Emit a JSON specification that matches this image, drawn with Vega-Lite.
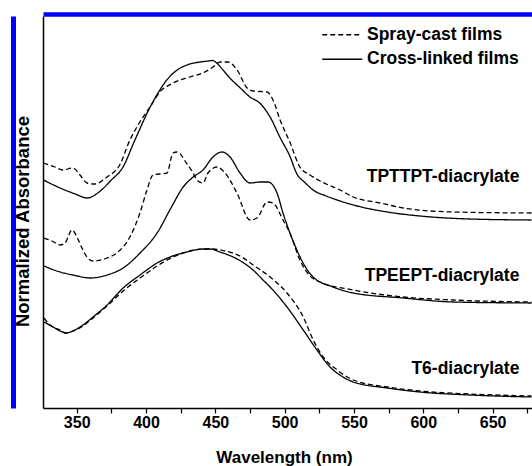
{
  "$schema": "https://vega.github.io/schema/vega-lite/v6.json",
  "width": 489,
  "height": 392,
  "autosize": {"type": "none"},
  "padding": {"left": 43, "top": 16, "right": 0, "bottom": 58},
  "background": "white",
  "config": {"view": {"stroke": null}, "font": "Liberation Sans"},
  "datasets": {
    "spectra": [
      {"s": "TPTTPT-C", "f": "Cross-linked films", "w": 326, "a": 2.28},
      {"s": "TPTTPT-C", "f": "Cross-linked films", "w": 338, "a": 2.20},
      {"s": "TPTTPT-C", "f": "Cross-linked films", "w": 349, "a": 2.14},
      {"s": "TPTTPT-C", "f": "Cross-linked films", "w": 357.5, "a": 2.10},
      {"s": "TPTTPT-C", "f": "Cross-linked films", "w": 367, "a": 2.17},
      {"s": "TPTTPT-C", "f": "Cross-linked films", "w": 375, "a": 2.28},
      {"s": "TPTTPT-C", "f": "Cross-linked films", "w": 383, "a": 2.40},
      {"s": "TPTTPT-C", "f": "Cross-linked films", "w": 392, "a": 2.68},
      {"s": "TPTTPT-C", "f": "Cross-linked films", "w": 403, "a": 3.01},
      {"s": "TPTTPT-C", "f": "Cross-linked films", "w": 410, "a": 3.18},
      {"s": "TPTTPT-C", "f": "Cross-linked films", "w": 415, "a": 3.28},
      {"s": "TPTTPT-C", "f": "Cross-linked films", "w": 422.5, "a": 3.38},
      {"s": "TPTTPT-C", "f": "Cross-linked films", "w": 429.5, "a": 3.43},
      {"s": "TPTTPT-C", "f": "Cross-linked films", "w": 439, "a": 3.46},
      {"s": "TPTTPT-C", "f": "Cross-linked films", "w": 445, "a": 3.47},
      {"s": "TPTTPT-C", "f": "Cross-linked films", "w": 448, "a": 3.475},
      {"s": "TPTTPT-C", "f": "Cross-linked films", "w": 451, "a": 3.45},
      {"s": "TPTTPT-C", "f": "Cross-linked films", "w": 455.5, "a": 3.38},
      {"s": "TPTTPT-C", "f": "Cross-linked films", "w": 460.5, "a": 3.30},
      {"s": "TPTTPT-C", "f": "Cross-linked films", "w": 468, "a": 3.20},
      {"s": "TPTTPT-C", "f": "Cross-linked films", "w": 475, "a": 3.11},
      {"s": "TPTTPT-C", "f": "Cross-linked films", "w": 482, "a": 3.05},
      {"s": "TPTTPT-C", "f": "Cross-linked films", "w": 489.5, "a": 2.91},
      {"s": "TPTTPT-C", "f": "Cross-linked films", "w": 496.5, "a": 2.71},
      {"s": "TPTTPT-C", "f": "Cross-linked films", "w": 504, "a": 2.51},
      {"s": "TPTTPT-C", "f": "Cross-linked films", "w": 508.5, "a": 2.35},
      {"s": "TPTTPT-C", "f": "Cross-linked films", "w": 515, "a": 2.25},
      {"s": "TPTTPT-C", "f": "Cross-linked films", "w": 520.5, "a": 2.18},
      {"s": "TPTTPT-C", "f": "Cross-linked films", "w": 530, "a": 2.12},
      {"s": "TPTTPT-C", "f": "Cross-linked films", "w": 540, "a": 2.07},
      {"s": "TPTTPT-C", "f": "Cross-linked films", "w": 549.5, "a": 2.03},
      {"s": "TPTTPT-C", "f": "Cross-linked films", "w": 574, "a": 1.96},
      {"s": "TPTTPT-C", "f": "Cross-linked films", "w": 597.5, "a": 1.92},
      {"s": "TPTTPT-C", "f": "Cross-linked films", "w": 633.5, "a": 1.89},
      {"s": "TPTTPT-C", "f": "Cross-linked films", "w": 678, "a": 1.88},

      {"s": "TPTTPT-S", "f": "Spray-cast films", "w": 326, "a": 2.45},
      {"s": "TPTTPT-S", "f": "Spray-cast films", "w": 334.4, "a": 2.41},
      {"s": "TPTTPT-S", "f": "Spray-cast films", "w": 340, "a": 2.38},
      {"s": "TPTTPT-S", "f": "Spray-cast films", "w": 347.3, "a": 2.40},
      {"s": "TPTTPT-S", "f": "Spray-cast films", "w": 352.4, "a": 2.33},
      {"s": "TPTTPT-S", "f": "Spray-cast films", "w": 357.5, "a": 2.25},
      {"s": "TPTTPT-S", "f": "Spray-cast films", "w": 363, "a": 2.24},
      {"s": "TPTTPT-S", "f": "Spray-cast films", "w": 371.9, "a": 2.31},
      {"s": "TPTTPT-S", "f": "Spray-cast films", "w": 381, "a": 2.43},
      {"s": "TPTTPT-S", "f": "Spray-cast films", "w": 388.4, "a": 2.68},
      {"s": "TPTTPT-S", "f": "Spray-cast films", "w": 395.6, "a": 2.86},
      {"s": "TPTTPT-S", "f": "Spray-cast films", "w": 402.9, "a": 3.01},
      {"s": "TPTTPT-S", "f": "Spray-cast films", "w": 410, "a": 3.16},
      {"s": "TPTTPT-S", "f": "Spray-cast films", "w": 419.5, "a": 3.25},
      {"s": "TPTTPT-S", "f": "Spray-cast films", "w": 431.7, "a": 3.31},
      {"s": "TPTTPT-S", "f": "Spray-cast films", "w": 441, "a": 3.35},
      {"s": "TPTTPT-S", "f": "Spray-cast films", "w": 448.3, "a": 3.41},
      {"s": "TPTTPT-S", "f": "Spray-cast films", "w": 453.4, "a": 3.46},
      {"s": "TPTTPT-S", "f": "Spray-cast films", "w": 459.1, "a": 3.46},
      {"s": "TPTTPT-S", "f": "Spray-cast films", "w": 465.7, "a": 3.38},
      {"s": "TPTTPT-S", "f": "Spray-cast films", "w": 472.9, "a": 3.20},
      {"s": "TPTTPT-S", "f": "Spray-cast films", "w": 477.2, "a": 3.17},
      {"s": "TPTTPT-S", "f": "Spray-cast films", "w": 487.3, "a": 3.16},
      {"s": "TPTTPT-S", "f": "Spray-cast films", "w": 491.6, "a": 3.08},
      {"s": "TPTTPT-S", "f": "Spray-cast films", "w": 496.7, "a": 2.88},
      {"s": "TPTTPT-S", "f": "Spray-cast films", "w": 504, "a": 2.65},
      {"s": "TPTTPT-S", "f": "Spray-cast films", "w": 511, "a": 2.41},
      {"s": "TPTTPT-S", "f": "Spray-cast films", "w": 518.3, "a": 2.33},
      {"s": "TPTTPT-S", "f": "Spray-cast films", "w": 525.5, "a": 2.27},
      {"s": "TPTTPT-S", "f": "Spray-cast films", "w": 540, "a": 2.18},
      {"s": "TPTTPT-S", "f": "Spray-cast films", "w": 549.5, "a": 2.11},
      {"s": "TPTTPT-S", "f": "Spray-cast films", "w": 569, "a": 2.05},
      {"s": "TPTTPT-S", "f": "Spray-cast films", "w": 585.5, "a": 2.00},
      {"s": "TPTTPT-S", "f": "Spray-cast films", "w": 621.6, "a": 1.96},
      {"s": "TPTTPT-S", "f": "Spray-cast films", "w": 678, "a": 1.95},

      {"s": "TPEEPT-C", "f": "Cross-linked films", "w": 326.4, "a": 1.42},
      {"s": "TPEEPT-C", "f": "Cross-linked films", "w": 338, "a": 1.36},
      {"s": "TPEEPT-C", "f": "Cross-linked films", "w": 347.3, "a": 1.33},
      {"s": "TPEEPT-C", "f": "Cross-linked films", "w": 359.6, "a": 1.30},
      {"s": "TPEEPT-C", "f": "Cross-linked films", "w": 371.9, "a": 1.33},
      {"s": "TPEEPT-C", "f": "Cross-linked films", "w": 383.5, "a": 1.40},
      {"s": "TPEEPT-C", "f": "Cross-linked films", "w": 395.7, "a": 1.55},
      {"s": "TPEEPT-C", "f": "Cross-linked films", "w": 408, "a": 1.75},
      {"s": "TPEEPT-C", "f": "Cross-linked films", "w": 418, "a": 2.00},
      {"s": "TPEEPT-C", "f": "Cross-linked films", "w": 426.8, "a": 2.21},
      {"s": "TPEEPT-C", "f": "Cross-linked films", "w": 434, "a": 2.31},
      {"s": "TPEEPT-C", "f": "Cross-linked films", "w": 441.1, "a": 2.38},
      {"s": "TPEEPT-C", "f": "Cross-linked films", "w": 448.3, "a": 2.51},
      {"s": "TPEEPT-C", "f": "Cross-linked films", "w": 454.8, "a": 2.56},
      {"s": "TPEEPT-C", "f": "Cross-linked films", "w": 460.6, "a": 2.51},
      {"s": "TPEEPT-C", "f": "Cross-linked films", "w": 467.8, "a": 2.35},
      {"s": "TPEEPT-C", "f": "Cross-linked films", "w": 475, "a": 2.25},
      {"s": "TPEEPT-C", "f": "Cross-linked films", "w": 482.2, "a": 2.26},
      {"s": "TPEEPT-C", "f": "Cross-linked films", "w": 488, "a": 2.26},
      {"s": "TPEEPT-C", "f": "Cross-linked films", "w": 494.5, "a": 2.15},
      {"s": "TPEEPT-C", "f": "Cross-linked films", "w": 498.8, "a": 1.95},
      {"s": "TPEEPT-C", "f": "Cross-linked films", "w": 503.8, "a": 1.75},
      {"s": "TPEEPT-C", "f": "Cross-linked films", "w": 508.8, "a": 1.58},
      {"s": "TPEEPT-C", "f": "Cross-linked films", "w": 513.3, "a": 1.45},
      {"s": "TPEEPT-C", "f": "Cross-linked films", "w": 520.5, "a": 1.31},
      {"s": "TPEEPT-C", "f": "Cross-linked films", "w": 534.9, "a": 1.21},
      {"s": "TPEEPT-C", "f": "Cross-linked films", "w": 549.5, "a": 1.15},
      {"s": "TPEEPT-C", "f": "Cross-linked films", "w": 585.5, "a": 1.10},
      {"s": "TPEEPT-C", "f": "Cross-linked films", "w": 621.6, "a": 1.06},
      {"s": "TPEEPT-C", "f": "Cross-linked films", "w": 678, "a": 1.05},

      {"s": "TPEEPT-S", "f": "Spray-cast films", "w": 326.4, "a": 1.70},
      {"s": "TPEEPT-S", "f": "Spray-cast films", "w": 332.2, "a": 1.67},
      {"s": "TPEEPT-S", "f": "Spray-cast films", "w": 338, "a": 1.63},
      {"s": "TPEEPT-S", "f": "Spray-cast films", "w": 341.6, "a": 1.65},
      {"s": "TPEEPT-S", "f": "Spray-cast films", "w": 346.6, "a": 1.78},
      {"s": "TPEEPT-S", "f": "Spray-cast films", "w": 350.2, "a": 1.71},
      {"s": "TPEEPT-S", "f": "Spray-cast films", "w": 353.8, "a": 1.60},
      {"s": "TPEEPT-S", "f": "Spray-cast films", "w": 357.4, "a": 1.51},
      {"s": "TPEEPT-S", "f": "Spray-cast films", "w": 361.8, "a": 1.47},
      {"s": "TPEEPT-S", "f": "Spray-cast films", "w": 371.9, "a": 1.50},
      {"s": "TPEEPT-S", "f": "Spray-cast films", "w": 379.8, "a": 1.56},
      {"s": "TPEEPT-S", "f": "Spray-cast films", "w": 388.4, "a": 1.71},
      {"s": "TPEEPT-S", "f": "Spray-cast films", "w": 395.6, "a": 1.95},
      {"s": "TPEEPT-S", "f": "Spray-cast films", "w": 400.7, "a": 2.18},
      {"s": "TPEEPT-S", "f": "Spray-cast films", "w": 405, "a": 2.33},
      {"s": "TPEEPT-S", "f": "Spray-cast films", "w": 415.1, "a": 2.35},
      {"s": "TPEEPT-S", "f": "Spray-cast films", "w": 419.5, "a": 2.55},
      {"s": "TPEEPT-S", "f": "Spray-cast films", "w": 422.4, "a": 2.56},
      {"s": "TPEEPT-S", "f": "Spray-cast films", "w": 429.6, "a": 2.44},
      {"s": "TPEEPT-S", "f": "Spray-cast films", "w": 434, "a": 2.35},
      {"s": "TPEEPT-S", "f": "Spray-cast films", "w": 436.8, "a": 2.28},
      {"s": "TPEEPT-S", "f": "Spray-cast films", "w": 441.1, "a": 2.25},
      {"s": "TPEEPT-S", "f": "Spray-cast films", "w": 444.7, "a": 2.35},
      {"s": "TPEEPT-S", "f": "Spray-cast films", "w": 451.2, "a": 2.41},
      {"s": "TPEEPT-S", "f": "Spray-cast films", "w": 457, "a": 2.35},
      {"s": "TPEEPT-S", "f": "Spray-cast films", "w": 465.6, "a": 2.15},
      {"s": "TPEEPT-S", "f": "Spray-cast films", "w": 475, "a": 1.88},
      {"s": "TPEEPT-S", "f": "Spray-cast films", "w": 480.1, "a": 1.90},
      {"s": "TPEEPT-S", "f": "Spray-cast films", "w": 487.3, "a": 2.06},
      {"s": "TPEEPT-S", "f": "Spray-cast films", "w": 491.6, "a": 2.05},
      {"s": "TPEEPT-S", "f": "Spray-cast films", "w": 498.8, "a": 1.88},
      {"s": "TPEEPT-S", "f": "Spray-cast films", "w": 503.8, "a": 1.75},
      {"s": "TPEEPT-S", "f": "Spray-cast films", "w": 511, "a": 1.48},
      {"s": "TPEEPT-S", "f": "Spray-cast films", "w": 518.3, "a": 1.32},
      {"s": "TPEEPT-S", "f": "Spray-cast films", "w": 525.5, "a": 1.26},
      {"s": "TPEEPT-S", "f": "Spray-cast films", "w": 549.5, "a": 1.18},
      {"s": "TPEEPT-S", "f": "Spray-cast films", "w": 585.5, "a": 1.11},
      {"s": "TPEEPT-S", "f": "Spray-cast films", "w": 621.6, "a": 1.08},
      {"s": "TPEEPT-S", "f": "Spray-cast films", "w": 678, "a": 1.06},

      {"s": "T6-C", "f": "Cross-linked films", "w": 326.4, "a": 0.86},
      {"s": "T6-C", "f": "Cross-linked films", "w": 333, "a": 0.81},
      {"s": "T6-C", "f": "Cross-linked films", "w": 338, "a": 0.77},
      {"s": "T6-C", "f": "Cross-linked films", "w": 342.3, "a": 0.75},
      {"s": "T6-C", "f": "Cross-linked films", "w": 347.3, "a": 0.77},
      {"s": "T6-C", "f": "Cross-linked films", "w": 354.5, "a": 0.83},
      {"s": "T6-C", "f": "Cross-linked films", "w": 361.8, "a": 0.91},
      {"s": "T6-C", "f": "Cross-linked films", "w": 371.9, "a": 1.03},
      {"s": "T6-C", "f": "Cross-linked films", "w": 383.5, "a": 1.20},
      {"s": "T6-C", "f": "Cross-linked films", "w": 395.7, "a": 1.33},
      {"s": "T6-C", "f": "Cross-linked films", "w": 408, "a": 1.45},
      {"s": "T6-C", "f": "Cross-linked films", "w": 417.3, "a": 1.51},
      {"s": "T6-C", "f": "Cross-linked films", "w": 429.6, "a": 1.56},
      {"s": "T6-C", "f": "Cross-linked films", "w": 441.1, "a": 1.59},
      {"s": "T6-C", "f": "Cross-linked films", "w": 446.2, "a": 1.59},
      {"s": "T6-C", "f": "Cross-linked films", "w": 453.4, "a": 1.56},
      {"s": "T6-C", "f": "Cross-linked films", "w": 465.7, "a": 1.49},
      {"s": "T6-C", "f": "Cross-linked films", "w": 477.2, "a": 1.38},
      {"s": "T6-C", "f": "Cross-linked films", "w": 484.4, "a": 1.28},
      {"s": "T6-C", "f": "Cross-linked films", "w": 489.5, "a": 1.21},
      {"s": "T6-C", "f": "Cross-linked films", "w": 501.7, "a": 1.01},
      {"s": "T6-C", "f": "Cross-linked films", "w": 513.4, "a": 0.78},
      {"s": "T6-C", "f": "Cross-linked films", "w": 523.3, "a": 0.58},
      {"s": "T6-C", "f": "Cross-linked films", "w": 532.7, "a": 0.41},
      {"s": "T6-C", "f": "Cross-linked films", "w": 539.9, "a": 0.33},
      {"s": "T6-C", "f": "Cross-linked films", "w": 549.5, "a": 0.26},
      {"s": "T6-C", "f": "Cross-linked films", "w": 574, "a": 0.20},
      {"s": "T6-C", "f": "Cross-linked films", "w": 597.5, "a": 0.16},
      {"s": "T6-C", "f": "Cross-linked films", "w": 633.5, "a": 0.13},
      {"s": "T6-C", "f": "Cross-linked films", "w": 678, "a": 0.11},

      {"s": "T6-S", "f": "Spray-cast films", "w": 326.4, "a": 0.90},
      {"s": "T6-S", "f": "Spray-cast films", "w": 330.8, "a": 0.83},
      {"s": "T6-S", "f": "Spray-cast films", "w": 338, "a": 0.78},
      {"s": "T6-S", "f": "Spray-cast films", "w": 342.3, "a": 0.75},
      {"s": "T6-S", "f": "Spray-cast films", "w": 347.3, "a": 0.77},
      {"s": "T6-S", "f": "Spray-cast films", "w": 354.5, "a": 0.82},
      {"s": "T6-S", "f": "Spray-cast films", "w": 361.8, "a": 0.90},
      {"s": "T6-S", "f": "Spray-cast films", "w": 371.9, "a": 1.02},
      {"s": "T6-S", "f": "Spray-cast films", "w": 383.5, "a": 1.17},
      {"s": "T6-S", "f": "Spray-cast films", "w": 395.7, "a": 1.30},
      {"s": "T6-S", "f": "Spray-cast films", "w": 408, "a": 1.42},
      {"s": "T6-S", "f": "Spray-cast films", "w": 419.5, "a": 1.51},
      {"s": "T6-S", "f": "Spray-cast films", "w": 431.7, "a": 1.57},
      {"s": "T6-S", "f": "Spray-cast films", "w": 441.1, "a": 1.59},
      {"s": "T6-S", "f": "Spray-cast films", "w": 448.3, "a": 1.59},
      {"s": "T6-S", "f": "Spray-cast films", "w": 457, "a": 1.57},
      {"s": "T6-S", "f": "Spray-cast films", "w": 467.8, "a": 1.52},
      {"s": "T6-S", "f": "Spray-cast films", "w": 477.2, "a": 1.43},
      {"s": "T6-S", "f": "Spray-cast films", "w": 489.5, "a": 1.31},
      {"s": "T6-S", "f": "Spray-cast films", "w": 501.7, "a": 1.15},
      {"s": "T6-S", "f": "Spray-cast films", "w": 513.4, "a": 0.91},
      {"s": "T6-S", "f": "Spray-cast films", "w": 520.6, "a": 0.68},
      {"s": "T6-S", "f": "Spray-cast films", "w": 527.8, "a": 0.51},
      {"s": "T6-S", "f": "Spray-cast films", "w": 537.9, "a": 0.38},
      {"s": "T6-S", "f": "Spray-cast films", "w": 549.5, "a": 0.28},
      {"s": "T6-S", "f": "Spray-cast films", "w": 574, "a": 0.21},
      {"s": "T6-S", "f": "Spray-cast films", "w": 597.5, "a": 0.17},
      {"s": "T6-S", "f": "Spray-cast films", "w": 633.5, "a": 0.14},
      {"s": "T6-S", "f": "Spray-cast films", "w": 678, "a": 0.12}
    ],
    "labels": [
      {"label": "TPTTPT-diacrylate", "w": 669.3, "a": 2.31},
      {"label": "TPEEPT-diacrylate", "w": 669.3, "a": 1.32},
      {"label": "T6-diacrylate", "w": 669.3, "a": 0.39}
    ]
  },
  "layer": [
    {
      "data": {"name": "spectra"},
      "mark": {"type": "line", "interpolate": "monotone", "strokeWidth": 1.3, "color": "black"},
      "encoding": {
        "x": {
          "field": "w", "type": "quantitative",
          "scale": {"domain": [325.7, 678.4], "nice": false, "zero": false},
          "axis": {
            "orient": "bottom",
            "values": [350, 375, 400, 425, 450, 475, 500, 525, 550, 575, 600, 625, 650, 675],
            "labelExpr": "datum.value % 50 === 0 ? datum.label : ''",
            "domainColor": "black", "domainWidth": 1.5,
            "tickColor": "black", "tickWidth": 1.2, "tickSize": 5,
            "labelFontSize": 16, "labelFontWeight": "bold", "labelFont": "Liberation Sans", "labelColor": "black",
            "labelPadding": 1, "labelFlush": false, "labelOverlap": false,
            "grid": false,
            "title": "Wavelength (nm)", "titleFontSize": 17, "titleFontWeight": "bold", "titleFont": "Liberation Sans", "titleColor": "black",
            "titleX": 241, "titleY": 54, "titleBaseline": "alphabetic"
          }
        },
        "y": {
          "field": "a", "type": "quantitative",
          "scale": {"domain": [0, 3.92], "nice": false, "zero": false},
          "axis": {
            "orient": "left",
            "domainColor": "black", "domainWidth": 1.5,
            "ticks": false, "labels": false, "grid": false,
            "title": "Normalized Absorbance", "titleFontSize": 18.5, "titleFontWeight": "bold", "titleFont": "Liberation Sans", "titleColor": "black",
            "titleX": -15, "titleY": 205, "titleAngle": 270, "titleAlign": "center", "titleBaseline": "alphabetic"
          }
        },
        "detail": {"field": "s", "type": "nominal"},
        "strokeDash": {
          "field": "f", "type": "nominal",
          "scale": {"domain": ["Spray-cast films", "Cross-linked films"], "range": [[5, 3], [1, 0]]},
          "legend": {
            "orient": "none", "legendX": 290.5, "legendY": 10, "title": null,
            "symbolType": "M-5,0H5", "symbolSize": 64, "symbolStrokeWidth": 1.3, "symbolStrokeColor": "black",
            "labelFontSize": 17.5, "labelFontWeight": "bold", "labelFont": "Liberation Sans", "labelColor": "black",
            "labelOffset": 16, "rowPadding": 5.5, "padding": 0
          }
        }
      }
    },
    {
      "data": {"name": "labels"},
      "mark": {"type": "text", "align": "right", "baseline": "middle", "fontSize": 17.5, "fontWeight": "bold", "font": "Liberation Sans", "color": "black"},
      "encoding": {
        "x": {
          "field": "w", "type": "quantitative",
          "axis": {"orient": "top", "offset": 2, "domainColor": "#0000ff", "domainWidth": 4.5, "ticks": false, "labels": false, "title": null, "grid": false}
        },
        "y": {
          "field": "a", "type": "quantitative",
          "axis": {"orient": "left", "offset": 30, "domainColor": "#0000ff", "domainWidth": 5, "ticks": false, "labels": false, "title": null, "grid": false}
        },
        "text": {"field": "label"}
      }
    }
  ],
  "resolve": {"axis": {"x": "independent", "y": "independent"}}
}
